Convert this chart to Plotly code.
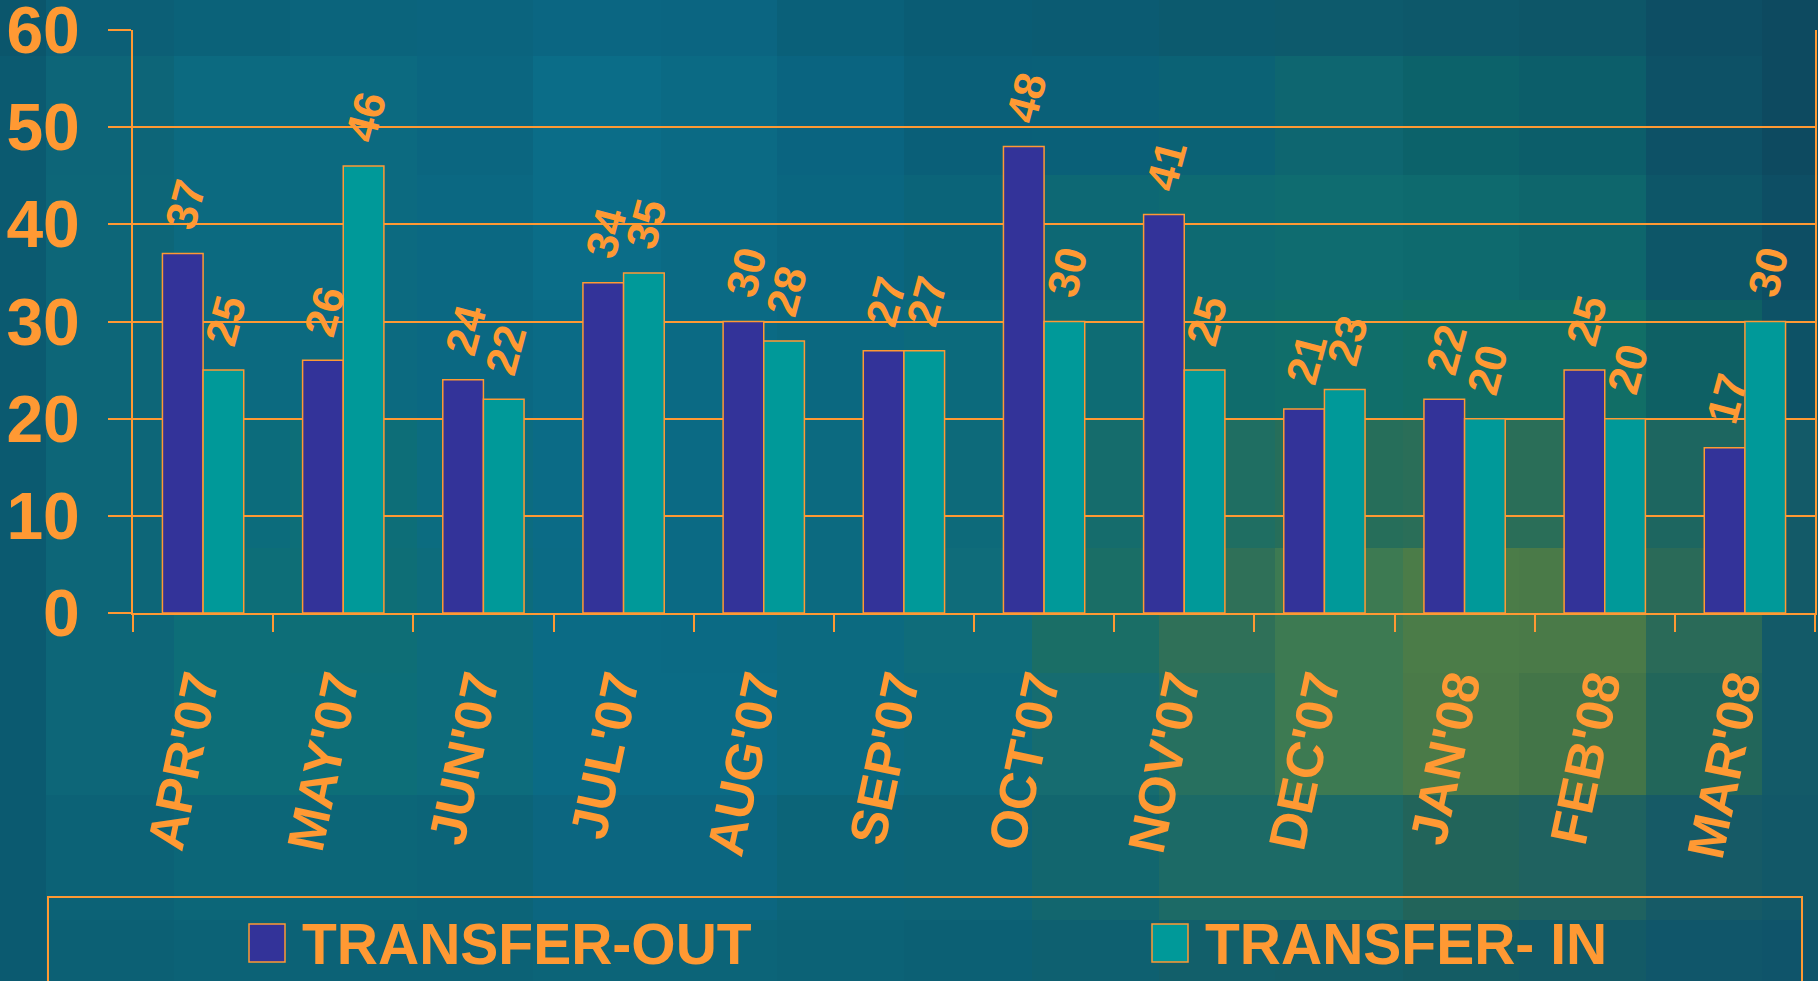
import plotly.graph_objects as go

# ---- data ----
months = ["APR'07", "MAY'07", "JUN'07", "JUL'07", "AUG'07", "SEP'07",
          "OCT'07", "NOV'07", "DEC'07", "JAN'08", "FEB'08", "MAR'08"]
transfer_out = [37, 26, 24, 34, 30, 27, 48, 41, 21, 22, 25, 17]
transfer_in = [25, 46, 22, 35, 28, 27, 30, 25, 23, 20, 20, 30]
series_names = ["TRANSFER-OUT", "TRANSFER- IN"]
y_ticks = [0, 10, 20, 30, 40, 50, 60]

# ---- style ----
W, H = 1818, 981
ML, MR, MT, MB = 133, 3, 30, 368
PW = W - ML - MR
PH = H - MT - MB
ORANGE = "#FF9933"
C_OUT = "#333399"
C_IN = "#009999"
FONT = "Liberation Sans, Arial, sans-serif"


def px_x(x):
    return (x - ML) / PW


def px_y(y):
    return (H - MB - y) / PH


fig = go.Figure()
fig.add_trace(go.Bar(x=months, y=transfer_out, name=series_names[0],
                     marker=dict(color=C_OUT, line=dict(color=ORANGE, width=1.5))))
fig.add_trace(go.Bar(x=months, y=transfer_in, name=series_names[1],
                     marker=dict(color=C_IN, line=dict(color=ORANGE, width=1.5))))

# data labels (rotated)
annotations = []
bar_px = PW / len(months) * (1 - 0.42) / 2
for vals, sgn in ((transfer_out, -1), (transfer_in, 1)):
    for m, v in zip(months, vals):
        annotations.append(dict(
            x=m, y=v, xref="x", yref="y", text=str(v), showarrow=False,
            xshift=sgn * bar_px / 2 + 2, yshift=17, xanchor="center", yanchor="bottom",
            textangle=-75,
            font=dict(family=FONT, size=44, color=ORANGE, weight="bold")))

# background mosaic (decoration)
bg_cols = [0, 46, 174, 290, 417, 533, 661, 777, 904, 1032, 1159, 1275, 1403, 1519, 1646, 1762, 1818]
bg_rows = [0, 56, 175, 300, 420, 548, 673, 795, 920, 981]
bg_colors = [
    ["#0b566c", "#0c5f76", "#0b6279", "#0b647c", "#0b647e", "#0b6682", "#0b6581", "#0a6079",
     "#0a5c74", "#0b5b72", "#0c5a6e", "#0d5a6c", "#0d586a", "#0d5668", "#0d4e64", "#0d4a60"],
    ["#0b5a70", "#0d6578", "#0c6a80", "#0c6a80", "#0b6680", "#0b6d88", "#0b6a84", "#0a6480",
     "#0a5f78", "#0a6078", "#0b6275", "#0e6670", "#0c626a", "#0c5e6a", "#0d5166", "#0d4a60"],
    ["#0b5a70", "#0d6678", "#0c6a80", "#0c6a80", "#0b6882", "#0b6d88", "#0b6a84", "#0a6680",
     "#0b6479", "#0d6874", "#0e6a72", "#0f6c70", "#0e6a6e", "#0e666c", "#0d5668", "#0d4e64"],
    ["#0b5a70", "#0d6678", "#0c6a80", "#0c6a80", "#0b6882", "#0b6b86", "#0b6a84", "#0b6880",
     "#0c6a7c", "#0e6c74", "#0f6c6c", "#106e6a", "#116e66", "#116e66", "#0e6064", "#0d5266"],
    ["#0b5a70", "#0d6678", "#0c6c7c", "#0d6e78", "#0c6c80", "#0b6b86", "#0b6a84", "#0c6a80",
     "#0d6a7a", "#156c6c", "#1f6e62", "#266e5a", "#2a6e58", "#2a6e58", "#1d6660", "#135a68"],
    ["#0b5a70", "#0d6678", "#0d6e78", "#0e6e76", "#0d6c7c", "#0b6b85", "#0b6a84", "#0c6a80",
     "#0f6c7a", "#1a6e66", "#2f7058", "#3d7a52", "#4b7c48", "#4a7a48", "#2a6a58", "#135a68"],
    ["#0b5a70", "#0d6678", "#0d6e78", "#0d6e78", "#0d6c7c", "#0b6b85", "#0b6b85", "#0c6a80",
     "#0d6a7c", "#166c70", "#27705f", "#3d7a52", "#4a7a48", "#437548", "#22665a", "#135a68"],
    ["#0b5a70", "#0c6276", "#0c6678", "#0c6678", "#0c6478", "#0c6680", "#0c6680", "#0c6478",
     "#0d6476", "#12666e", "#1c6a66", "#1c6a66", "#22645a", "#1f6260", "#165a66", "#125868"],
    ["#0b5a70", "#0c6074", "#0c6276", "#0c6276", "#0c6276", "#0c6478", "#0c6478", "#0c6276",
     "#0c6074", "#0e6070", "#125f6a", "#135e68", "#145c64", "#135a66", "#10566a", "#0f546a"],
]
shapes = []
for ri in range(len(bg_rows) - 1):
    for ci in range(len(bg_cols) - 1):
        shapes.append(dict(type="rect", xref="paper", yref="paper",
                           x0=px_x(bg_cols[ci]), x1=px_x(bg_cols[ci + 1]),
                           y0=px_y(bg_rows[ri + 1]), y1=px_y(bg_rows[ri]),
                           fillcolor=bg_colors[ri][ci], line=dict(width=0), layer="below"))

# custom legend
shapes.append(dict(type="rect", xref="paper", yref="paper",
                   x0=px_x(48), x1=px_x(1802), y0=px_y(1010), y1=px_y(897),
                   fillcolor="rgba(0,0,0,0)", line=dict(color=ORANGE, width=2)))
leg_items = [(249, C_OUT, series_names[0]), (1152, C_IN, series_names[1])]
for lx, col, name in leg_items:
    shapes.append(dict(type="rect", xref="paper", yref="paper",
                       x0=px_x(lx), x1=px_x(lx + 36), y0=px_y(962), y1=px_y(924),
                       fillcolor=col, line=dict(color=ORANGE, width=1.5)))
    annotations.append(dict(x=px_x(lx + 51), y=px_y(944), xref="paper", yref="paper",
                            text=name, showarrow=False, xanchor="left", yanchor="middle",
                            font=dict(family=FONT, size=57, color=ORANGE, weight="bold")))

fig.update_layout(
    width=W, height=H,
    margin=dict(l=ML, r=MR, t=MT, b=MB, autoexpand=False),
    paper_bgcolor="#0b6580",
    plot_bgcolor="rgba(0,0,0,0)",
    barmode="group", bargap=0.42, bargroupgap=0,
    showlegend=False,
    shapes=shapes,
    annotations=annotations,
)
fig.update_xaxes(
    type="category", showgrid=False,
    showline=True, linecolor=ORANGE, linewidth=2,
    ticks="outside", tickson="boundaries", ticklen=17, tickwidth=2, tickcolor=ORANGE,
    tickangle=-78, ticklabelstandoff=20, ticklabelshift=-9,
    tickfont=dict(family=FONT, size=52, color=ORANGE, weight="bold"),
)
fig.update_yaxes(
    range=[0, 60], tickvals=y_ticks,
    showgrid=True, gridcolor=ORANGE, gridwidth=2,
    showline=True, linecolor=ORANGE, linewidth=2, mirror=True,
    ticks="outside", ticklen=23, tickwidth=2, tickcolor=ORANGE,
    ticklabelstandoff=15, ticklabeloverflow="allow",
    tickfont=dict(family=FONT, size=66, color=ORANGE, weight="bold"),
    zeroline=False,
)

fig.write_html("out.html", config={"displayModeBar": False},
               post_script="document.body.style.margin='0';document.body.style.overflow='hidden';")
